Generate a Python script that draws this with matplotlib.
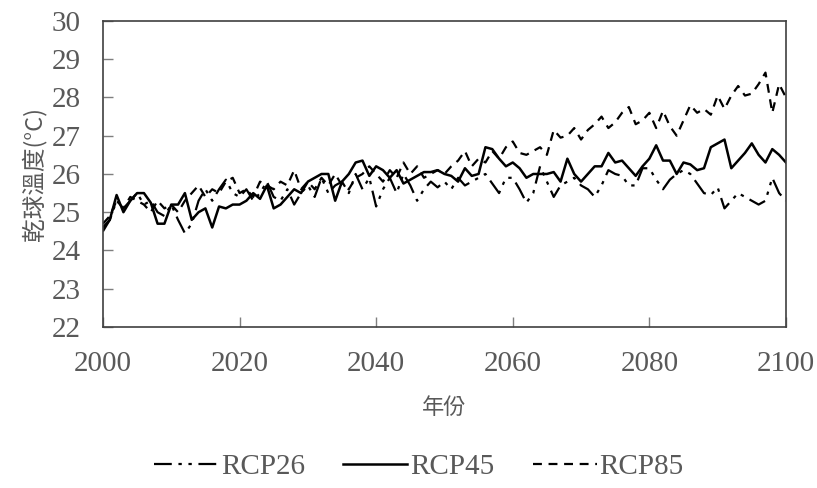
import numpy as np
import matplotlib.pyplot as plt

# 年份
years = np.arange(2000, 2101)

# 乾球溫度 (°C), RCP2.6 / RCP4.5 / RCP8.5
rcp26 = [24.5, 24.8, 25.3, 25.1, 25.3, 25.5, 25.2, 25.3, 25.0, 24.9,
         25.2, 24.8, 24.45, 24.7, 25.3, 25.6, 25.3, 25.6, 25.85, 25.5,
         25.4, 25.6, 25.3, 25.5, 25.8, 25.4, 25.3, 25.6, 25.2, 25.5,
         25.7, 25.4, 25.9, 25.5, 25.7, 25.8, 25.5, 26.0, 25.6, 25.9,
         25.15, 25.6, 25.9, 25.5, 26.0, 25.7, 25.3, 25.6, 25.8, 25.65,
         25.8, 25.6, 25.9, 25.7, 25.8, 25.9, 26.0, 25.75, 25.5, 25.9,
         25.9, 25.6, 25.25, 25.5, 26.2, 25.8, 25.4, 25.7, 25.8, 25.9,
         25.7, 25.6, 25.4, 25.7, 26.1, 26.0, 25.95, 25.7, 25.7, 26.15,
         26.15, 25.85, 25.6, 25.85, 26.0, 26.1, 26.0, 25.75, 25.5, 25.45,
         25.65, 25.1, 25.3, 25.5, 25.4, 25.3, 25.2, 25.3, 25.9, 25.5,
         25.3]
rcp45 = [24.6, 24.8, 25.45, 25.0, 25.3, 25.5, 25.5, 25.25, 24.7, 24.7,
         25.2, 25.2, 25.5, 24.8, 25.0, 25.1, 24.6, 25.15, 25.1, 25.2,
         25.2, 25.3, 25.5, 25.35, 25.7, 25.1, 25.2, 25.4, 25.6, 25.5,
         25.8, 25.9, 26.0, 26.0, 25.3, 25.8, 26.0, 26.3, 26.35, 25.95,
         26.2, 26.1, 25.9, 26.1, 25.75, 25.85, 25.95, 26.05, 26.05, 26.1,
         26.0, 25.95, 25.8, 26.15, 25.95, 26.0, 26.7, 26.65, 26.4, 26.2,
         26.3, 26.15, 25.9, 26.0, 26.0, 26.0, 26.05, 25.8, 26.4, 26.0,
         25.8, 26.0, 26.2, 26.2, 26.55, 26.3, 26.35, 26.15, 25.95, 26.2,
         26.4, 26.75, 26.35, 26.35, 26.0, 26.3, 26.25, 26.1, 26.15, 26.7,
         26.8, 26.9, 26.15, 26.35, 26.55, 26.8, 26.5, 26.3, 26.65, 26.5,
         26.3]
rcp85 = [24.7, 24.9, 25.3, 25.1, 25.4, 25.3, 25.2, 25.0, 25.3, 25.1,
         25.2, 25.0, 25.3, 25.5, 25.7, 25.4, 25.6, 25.5, 25.8, 25.9,
         25.5, 25.6, 25.4, 25.8, 25.7, 25.6, 25.8, 25.7, 26.1, 25.6,
         25.8, 25.6, 25.9, 25.7, 26.0, 25.7, 25.6, 25.9, 26.0, 26.2,
         26.0, 25.8, 26.1, 25.9, 26.3, 26.0, 26.2, 25.9, 26.0, 26.1,
         26.0, 26.2, 26.35, 26.6, 26.2, 26.4, 26.3, 26.6, 26.4, 26.7,
         26.85, 26.55, 26.5, 26.6, 26.7, 26.5, 27.15, 26.95, 27.0, 27.2,
         26.9, 27.15, 27.3, 27.5, 27.2, 27.35, 27.6, 27.75, 27.3, 27.4,
         27.6, 27.2, 27.65, 27.25, 27.0, 27.4, 27.8, 27.6, 27.7, 27.55,
         28.05, 27.7, 28.05, 28.3, 28.05, 28.1, 28.35, 28.65, 27.6, 28.35,
         28.0]

labels = ['RCP26', 'RCP45', 'RCP85']
xticks = [2000, 2020, 2040, 2060, 2080, 2100]
yticks = list(range(22, 31))

plt.rcParams['font.family'] = ['Liberation Serif', 'Noto Sans CJK TC']
text_color = '#595959'

fig = plt.figure(figsize=(8.17, 4.88), dpi=100)
ax = fig.add_axes([0.126, 0.330, 0.836, 0.627])

ax.plot(years, rcp26, color='black', linewidth=1.6, dashes=(8, 3, 1.5, 3, 1.5, 3), label=labels[0])
ax.plot(years, rcp45, color='black', linewidth=1.8, label=labels[1])
ax.plot(years, rcp85, color='black', linewidth=1.6, dashes=(4, 3), label=labels[2])

ax.set_xlim(2000, 2100)
ax.set_ylim(22, 30)
ax.set_xticks(xticks)
ax.set_yticks(yticks)
ax.tick_params(direction='in', length=7, width=1, color='#7f7f7f',
               labelsize=21, labelcolor=text_color, top=False, right=False)
ax.tick_params(axis='x', pad=17)
ax.tick_params(axis='y', pad=16)
for s in ax.spines.values():
    s.set_color('#404040')
    s.set_linewidth(1.2)

ax.set_xlabel('年份', fontsize=16, color=text_color, family=['Noto Sans CJK TC'], labelpad=14)
ax.set_ylabel('乾球溫度(°C)', fontsize=17, color=text_color,
              family=['Noto Sans CJK TC', 'DejaVu Sans'], labelpad=4)

leg = fig.legend(loc='center', bbox_to_anchor=(0.513, 0.043), ncol=3, frameon=False,
                 fontsize=21, handlelength=2.2, handletextpad=0.1, columnspacing=1.3)
for t in leg.get_texts():
    t.set_color(text_color)

fig.savefig('out.png', dpi=100)
